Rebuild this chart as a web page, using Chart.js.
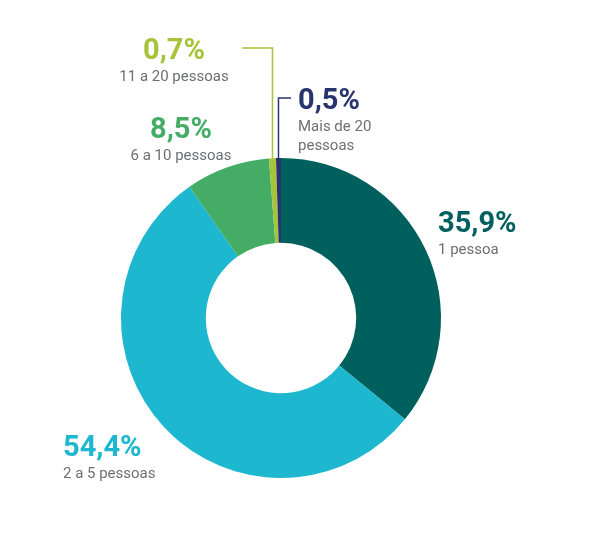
<!DOCTYPE html>
<html>
<head>
<meta charset="utf-8">
<script src="https://cdn.jsdelivr.net/npm/chart.js@4"></script>
<style>
  body { margin: 0; background: #fff; }
  #wrap { width: 599px; height: 538px; }
</style>
</head>
<body>
<div id="wrap"><canvas id="chart"></canvas></div>
<script>
const categories = ['1 pessoa', '2 a 5 pessoas', '6 a 10 pessoas', '11 a 20 pessoas', 'Mais de 20 pessoas'];
const values = [35.9, 54.4, 8.5, 0.7, 0.5];
const colors = ['#00605e', '#1db8cf', '#45ac66', '#a5c43a', '#28346e'];
const valueLabels = ['35,9%', '54,4%', '8,5%', '0,7%', '0,5%'];

// label positions (text anchor points)
const labelPos = [
  { x: 438, y: 232, sub: ['1 pessoa'], align: 'left' },
  { x: 63, y: 456, sub: ['2 a 5 pessoas'], align: 'left' },
  { x: 181, y: 138, sub: ['6 a 10 pessoas'], align: 'center' },
  { x: 174, y: 59, sub: ['11 a 20 pessoas'], align: 'center' },
  { x: 298, y: 109, sub: ['Mais de 20', 'pessoas'], align: 'left' }
];

const labelsPlugin = {
  id: 'labels',
  afterDraw(chart) {
    const ctx = chart.ctx;
    const meta = chart.getDatasetMeta(0);
    ctx.save();
    // leader lines for the small slices
    const a3 = meta.data[3], a4 = meta.data[4];
    const mid3 = (a3.startAngle + a3.endAngle) / 2, mid4 = (a4.startAngle + a4.endAngle) / 2;
    const p3 = { x: a3.x + Math.cos(mid3) * a3.outerRadius, y: a3.y + Math.sin(mid3) * a3.outerRadius };
    const p4 = { x: a4.x + Math.cos(mid4) * a4.outerRadius, y: a4.y + Math.sin(mid4) * a4.outerRadius };
    ctx.lineWidth = 1.5;
    ctx.strokeStyle = colors[3];
    ctx.beginPath();
    ctx.moveTo(p3.x, p3.y); ctx.lineTo(p3.x, 48); ctx.lineTo(242, 48); ctx.stroke();
    ctx.strokeStyle = colors[4];
    ctx.beginPath();
    ctx.moveTo(p4.x, p4.y); ctx.lineTo(p4.x, 98); ctx.lineTo(291, 98); ctx.stroke();

    labelPos.forEach((p, i) => {
      ctx.textAlign = p.align;
      ctx.textBaseline = 'alphabetic';
      ctx.fillStyle = colors[i];
      ctx.font = 'bold 29px Roboto';
      ctx.fillText(valueLabels[i], p.x, p.y);
      ctx.fillStyle = '#6d6e71';
      ctx.font = '15px Roboto';
      p.sub.forEach((s, j) => ctx.fillText(s, p.x, p.y + 22 + j * 19));
    });
    ctx.restore();
  }
};

new Chart(document.getElementById('chart'), {
  type: 'doughnut',
  data: {
    labels: categories,
    datasets: [{ data: values, backgroundColor: colors, borderWidth: 0 }]
  },
  options: {
    responsive: true,
    maintainAspectRatio: false,
    animation: false,
    cutout: '47%',
    layout: { padding: { left: 121, right: 158, top: 158, bottom: 60 } },
    plugins: { legend: { display: false }, tooltip: { enabled: false } }
  },
  plugins: [labelsPlugin]
});
</script>
</body>
</html>
